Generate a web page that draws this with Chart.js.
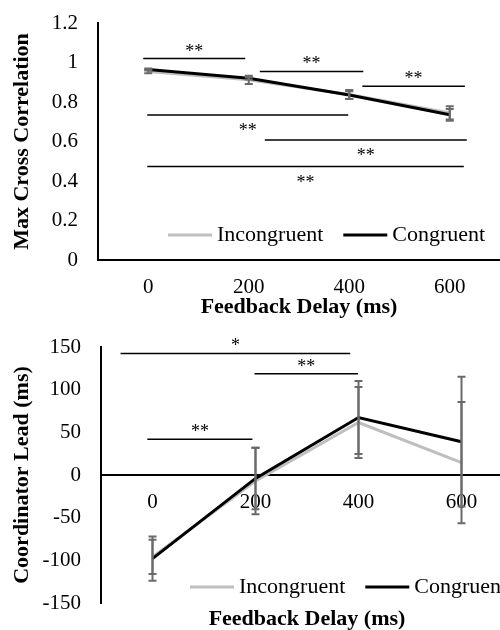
<!DOCTYPE html>
<html>
<head>
<meta charset="utf-8">
<script src="https://cdn.jsdelivr.net/npm/chart.js@4.4.0/dist/chart.umd.min.js"></script>
<style>
  body { margin: 0; background: #fff; width: 500px; height: 630px; overflow: hidden; position: relative; }
  #corr { position: absolute; left: 0; top: 0; }
  #lead { position: absolute; left: 0; top: 320px; }
</style>
</head>
<body>
<canvas id="corr" width="500" height="320"></canvas>
<canvas id="lead" width="520" height="310"></canvas>
<script>
// feedback delays (ms)
var delays = ['0', '200', '400', '600'];

// top panel: max cross correlation
var corrIncongruent = [0.955, 0.912, 0.838, 0.745];
var corrCongruent = [0.965, 0.92, 0.835, 0.735];
var corrIncongruentErr = [0.01, 0.021, 0.023, 0.034];
var corrCongruentErr = [0.005, 0.006, 0.02, 0.03];
var corrTicks = [0, 0.2, 0.4, 0.6, 0.8, 1, 1.2];
var corrTickLabels = ['0', '0.2', '0.4', '0.6', '0.8', '1', '1.2'];

// top panel significance lines (category positions, y value, label)
var corrSigFrom = [-0.05, 1.11, 2.13, -0.01, 1.16, -0.01];
var corrSigTo = [0.965, 2.14, 3.15, 1.99, 3.17, 3.14];
var corrSigY = [1.02, 0.955, 0.88, 0.734, 0.608, 0.473];
var corrSigText = ['**', '**', '**', '**', '**', '**'];
var corrSigAbove = [true, true, true, false, false, false];

// bottom panel: coordinator lead (ms)
var leadIncongruent = [-96, -7, 61.5, 14.6];
var leadCongruent = [-98, -4, 67.4, 39];
var leadIncongruentErr = [20, 39, 41.7, 71];
var leadCongruentErr = [26, 36, 42.9, 76];
var leadTicks = [-150, -100, -50, 0, 50, 100, 150];
var leadTickLabels = ['-150', '-100', '-50', '0', '50', '100', '150'];

var leadSigFrom = [-0.31, 0.99, -0.05];
var leadSigTo = [1.92, 1.995, 0.97];
var leadSigY = [142.4, 118.6, 42];
var leadSigText = ['*', '**', '**'];
var leadSigAbove = [true, true, true];

var serif = 'Liberation Serif';
var grey = '#bfbfbf';
var errColor = '#6a6a6a';

// vertical error bars with caps, drawn on top of the lines
var errorBarPlugin = {
  id: 'errorBars',
  afterDatasetsDraw: function(chart) {
    var ctx = chart.ctx;
    var xs = chart.scales.x, ys = chart.scales.y;
    ctx.save();
    ctx.strokeStyle = errColor;
    ctx.lineWidth = 2;
    chart.data.datasets.forEach(function(ds) {
      if (!ds.errorBars) return;
      ds.data.forEach(function(v, i) {
        var e = ds.errorBars[i];
        var x = xs.getPixelForValue(i);
        var yt = ys.getPixelForValue(v + e);
        var yb = ys.getPixelForValue(v - e);
        ctx.beginPath();
        ctx.moveTo(x, yt); ctx.lineTo(x, yb);
        ctx.moveTo(x - 4, yt); ctx.lineTo(x + 4, yt);
        ctx.moveTo(x - 4, yb); ctx.lineTo(x + 4, yb);
        ctx.stroke();
      });
    });
    ctx.restore();
  }
};

// significance lines with asterisks
var sigPlugin = {
  id: 'sigLines',
  afterDraw: function(chart, args, opts) {
    var ctx = chart.ctx;
    var xs = chart.scales.x, ys = chart.scales.y;
    ctx.save();
    ctx.strokeStyle = '#000';
    ctx.fillStyle = '#000';
    ctx.lineWidth = 1.5;
    ctx.font = '18px "' + serif + '"';
    ctx.textAlign = 'center';
    ctx.textBaseline = 'alphabetic';
    opts.from.forEach(function(f, i) {
      var x1 = xs.getPixelForValue(f);
      var x2 = xs.getPixelForValue(opts.to[i]);
      var y = ys.getPixelForValue(opts.y[i]);
      ctx.beginPath();
      ctx.moveTo(x1, y); ctx.lineTo(x2, y);
      ctx.stroke();
      ctx.fillText(opts.text[i], (x1 + x2) / 2, opts.above[i] ? y - 2 : y + 21);
    });
    ctx.restore();
  }
};

// legend drawn inside the plot area
var innerLegendPlugin = {
  id: 'innerLegend',
  afterDraw: function(chart, args, opts) {
    var ctx = chart.ctx;
    var area = chart.chartArea;
    var x = area.left + opts.dx;
    var y = area.bottom + opts.dy;
    ctx.save();
    ctx.font = '22px "' + serif + '"';
    ctx.textBaseline = 'middle';
    ctx.textAlign = 'left';
    chart.data.datasets.forEach(function(ds) {
      ctx.strokeStyle = ds.borderColor;
      ctx.lineWidth = ds.borderWidth;
      ctx.beginPath();
      ctx.moveTo(x, y); ctx.lineTo(x + 44, y);
      ctx.stroke();
      ctx.fillStyle = '#000';
      ctx.fillText(ds.label, x + 49, y);
      x += 49 + ctx.measureText(ds.label).width + 20;
    });
    ctx.restore();
  }
};

function makeDatasets(incong, cong, incongErr, congErr) {
  return [
    { label: 'Incongruent', data: incong, errorBars: incongErr, borderColor: grey,
      borderWidth: 3, pointRadius: 0, tension: 0, fill: false, order: 1 },
    { label: 'Congruent', data: cong, errorBars: congErr, borderColor: '#000',
      borderWidth: 3, pointRadius: 0, tension: 0, fill: false, order: 0 }
  ];
}

function yTicksFrom(list) {
  return function(scale) {
    scale.ticks = list.map(function(v) { return { value: v }; });
  };
}

function labelsFrom(list) {
  return function(value, index) { return list[index]; };
}

new Chart(document.getElementById('corr'), {
  type: 'line',
  data: { labels: delays, datasets: makeDatasets(corrIncongruent, corrCongruent, corrIncongruentErr, corrCongruentErr) },
  plugins: [errorBarPlugin, sigPlugin, innerLegendPlugin],
  options: {
    responsive: false,
    animation: false,
    layout: { padding: { left: 0, right: 0, top: 23, bottom: 2 } },
    plugins: {
      legend: { display: false },
      tooltip: { enabled: false },
      sigLines: { from: corrSigFrom, to: corrSigTo, y: corrSigY, text: corrSigText, above: corrSigAbove },
      innerLegend: { dx: 70, dy: -25 }
    },
    scales: {
      x: {
        offset: true,
        grid: { display: false, drawTicks: true, tickLength: 17 },
        border: { display: true, color: '#000', width: 2 },
        ticks: { color: '#000', padding: 0, maxRotation: 0, font: { family: serif, size: 21, lineHeight: 1 } },
        title: { display: true, text: 'Feedback Delay (ms)', color: '#000', padding: { top: -2, bottom: 0 },
                 font: { family: serif, size: 22, weight: 'bold', lineHeight: 1 } }
      },
      y: {
        min: corrTicks[0],
        max: corrTicks[corrTicks.length - 1],
        afterBuildTicks: yTicksFrom(corrTicks),
        afterFit: function(scale) { scale.width = 98; },
        grid: { display: false, drawTicks: true, tickLength: 20 },
        border: { display: true, color: '#000', width: 2 },
        ticks: { color: '#000', padding: 0, callback: labelsFrom(corrTickLabels), font: { family: serif, size: 21 } },
        title: { display: true, text: 'Max Cross Correlation', color: '#000', padding: { top: 11, bottom: 0 },
                 font: { family: serif, size: 22, weight: 'bold', lineHeight: 1 } }
      }
    }
  }
});

new Chart(document.getElementById('lead'), {
  type: 'line',
  data: { labels: delays, datasets: makeDatasets(leadIncongruent, leadCongruent, leadIncongruentErr, leadCongruentErr) },
  plugins: [errorBarPlugin, sigPlugin, innerLegendPlugin],
  options: {
    responsive: false,
    animation: false,
    layout: { padding: { left: 0, right: 7, top: 27, bottom: 0 } },
    plugins: {
      legend: { display: false },
      tooltip: { enabled: false },
      title: { display: true, position: 'bottom', fullSize: false, text: 'Feedback Delay (ms)', color: '#000',
               padding: { top: 5, bottom: 0 }, font: { family: serif, size: 22, weight: 'bold', lineHeight: 1 } },
      sigLines: { from: leadSigFrom, to: leadSigTo, y: leadSigY, text: leadSigText, above: leadSigAbove },
      innerLegend: { dx: 89, dy: -16 }
    },
    scales: {
      x: {
        position: { y: 0 },
        offset: true,
        afterFit: function(scale) { scale.height = 0; },
        grid: { display: false, drawTicks: true, tickLength: 17 },
        border: { display: true, color: '#000', width: 2 },
        ticks: { color: '#000', padding: 0, maxRotation: 0, font: { family: serif, size: 21, lineHeight: 1 } }
      },
      y: {
        min: leadTicks[0],
        max: leadTicks[leadTicks.length - 1],
        afterBuildTicks: yTicksFrom(leadTicks),
        afterFit: function(scale) { scale.width = 101; },
        grid: { display: false, drawTicks: true, tickLength: 20 },
        border: { display: true, color: '#000', width: 2 },
        ticks: { color: '#000', padding: 0, callback: labelsFrom(leadTickLabels), font: { family: serif, size: 21 } },
        title: { display: true, text: 'Coordinator Lead (ms)', color: '#000', padding: { top: 11, bottom: 0 },
                 font: { family: serif, size: 22, weight: 'bold', lineHeight: 1 } }
      }
    }
  }
});
</script>
</body>
</html>
